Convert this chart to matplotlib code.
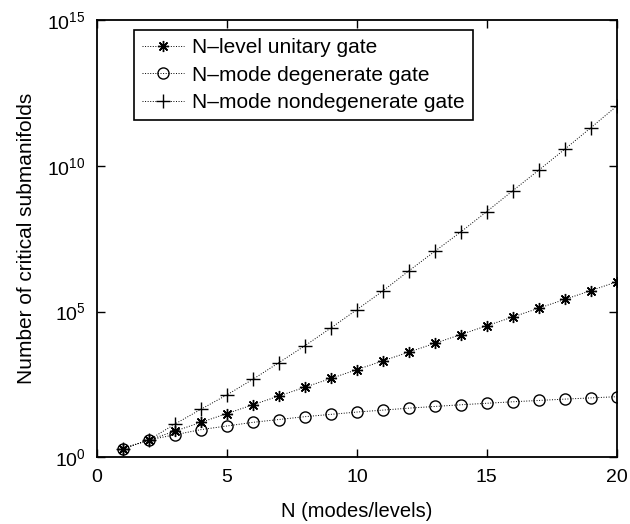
import matplotlib
matplotlib.use("Agg")
import matplotlib.pyplot as plt

plt.rcParams["font.family"] = ["Liberation Sans", "DejaVu Sans"]
plt.rcParams["mathtext.fontset"] = "custom"
plt.rcParams["mathtext.rm"] = "Liberation Sans"

# data (N = 1..20)
n_values = list(range(1, 21))
unitary = [2, 4, 8, 16, 32, 64, 128, 256, 512, 1024, 2048, 4096, 8192,
           16384, 32768, 65536, 131072, 262144, 524288, 1048576]
degenerate = [2, 4, 6, 9, 12, 16, 20, 25, 30, 36, 42, 49, 56, 64, 72,
              81, 90, 100, 110, 121]
nondegenerate = [2, 4, 14, 45, 140, 480, 1780, 6760, 2.75e4, 1.17e5,
                 5.1e5, 2.5e6, 1.17e7, 5.4e7, 2.7e8, 1.4e9, 7.1e9,
                 3.7e10, 2.0e11, 1.12e12]
labels = ["N\u2013level unitary gate", "N\u2013mode degenerate gate",
          "N\u2013mode nondegenerate gate"]

fig = plt.figure(figsize=(6.3, 5.24), dpi=100)
ax = fig.add_axes([0.154, 0.127, 0.825, 0.835])

line_kw = dict(color="black", linestyle=":", linewidth=0.7,
               markeredgewidth=1.0)
ax.plot(n_values, unitary, marker=(8, 2, 0), markersize=8,
        label=labels[0], **line_kw)
ax.plot(n_values, degenerate, marker="o", markersize=8,
        markerfacecolor="none", label=labels[1], **line_kw)
ax.plot(n_values, nondegenerate, marker="+", markersize=10,
        label=labels[2], **line_kw)

ax.set_yscale("log")
ax.set_xlim(0, 20)
ax.set_ylim(1, 1e15)
ax.set_xticks([0, 5, 10, 15, 20])
ax.set_yticks([1, 1e5, 1e10, 1e15])
ax.minorticks_off()
ax.tick_params(direction="in", top=True, right=True, labelsize=14,
               length=6, width=1.0, pad=8)
for sp in ax.spines.values():
    sp.set_linewidth(1.3)

ax.set_xlabel("N (modes/levels)", fontsize=14.5, labelpad=12)
ax.set_ylabel("Number of critical submanifolds", fontsize=15, labelpad=8)

leg = ax.legend(loc="upper left", bbox_to_anchor=(0.071, 0.977),
                borderaxespad=0, fontsize=15, fancybox=False,
                edgecolor="black", framealpha=1, handlelength=2.0,
                handletextpad=0.4, labelspacing=0.4, borderpad=0.4)
leg.get_frame().set_linewidth(1.2)

fig.savefig("out.png", dpi=100)
